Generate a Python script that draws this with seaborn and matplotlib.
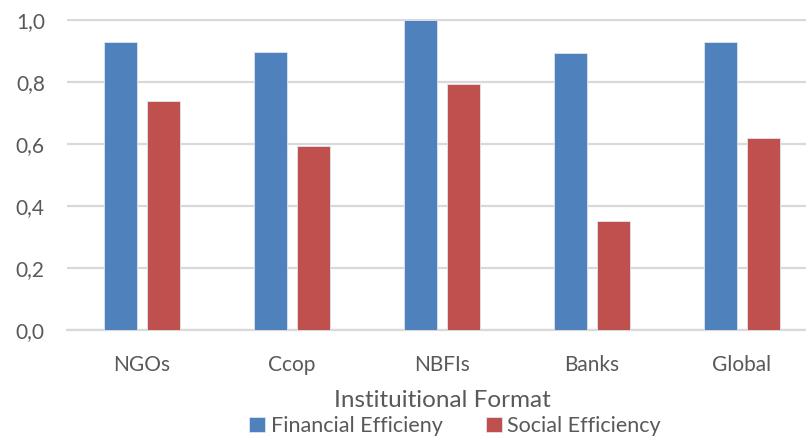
import pandas as pd
import numpy as np
import seaborn as sns
import matplotlib.pyplot as plt

sns.set_style(style="white")
plt.rcParams['font.family'] = ['Lato', 'DejaVu Sans']

# data
categories = ["NGOs", "Ccop", "NBFIs", "Banks", "Global"]
financial = [0.93, 0.896, 1.0, 0.893, 0.93]
social = [0.739, 0.592, 0.794, 0.353, 0.618]
series = ["Financial Efficieny", "Social Efficiency"]
ytick_vals = [0.0, 0.2, 0.4, 0.6, 0.8, 1.0]
ytick_labels = ["0,0", "0,2", "0,4", "0,6", "0,8", "1,0"]

df = pd.DataFrame({
    "cat": categories * 2,
    "val": financial + social,
    "serie": [series[0]] * len(categories) + [series[1]] * len(categories),
})

txt = "#595959"
fig = plt.figure(figsize=(8.06, 4.37), dpi=100)
ax = fig.add_axes([67 / 806, 1 - 330 / 437, 750 / 806, 311 / 437])

sns.barplot(data=df, x="cat", y="val", hue="serie", order=categories,
            palette=["#4F81BD", "#C0504D"], saturation=1, width=0.57, gap=0.23,
            edgecolor="#dfe6f0", linewidth=0.6, ax=ax, zorder=3)

ax.set_ylim(0, 1.003)
ax.set_xlim(-0.5, 4.5)
ax.set_yticks(ytick_vals)
ax.set_yticklabels(ytick_labels)
ax.yaxis.grid(True, color="#D9D9D9", linewidth=1.6, zorder=0)
ax.set_axisbelow(True)
for s in ["top", "right", "left"]:
    ax.spines[s].set_visible(False)
ax.spines["bottom"].set_color("#D9D9D9")
ax.spines["bottom"].set_linewidth(1.6)
ax.tick_params(axis="both", length=0, labelsize=15, colors=txt)
ax.tick_params(axis="x", pad=18)
ax.tick_params(axis="y", pad=16)
ax.set_ylabel("")
ax.set_xlabel("Instituitional Format", fontsize=17.5, color=txt, labelpad=11)

handles, labels = ax.get_legend_handles_labels()
ax.get_legend().remove()
fig.legend(handles, labels, loc="center", bbox_to_anchor=(455 / 806, 1 - 426 / 437),
           ncol=2, frameon=False, fontsize=15.5, labelcolor=txt,
           handlelength=0.75, handleheight=0.75, handletextpad=0.25,
           columnspacing=2.0, borderaxespad=0, borderpad=0)

plt.savefig("out.png", dpi=100)
